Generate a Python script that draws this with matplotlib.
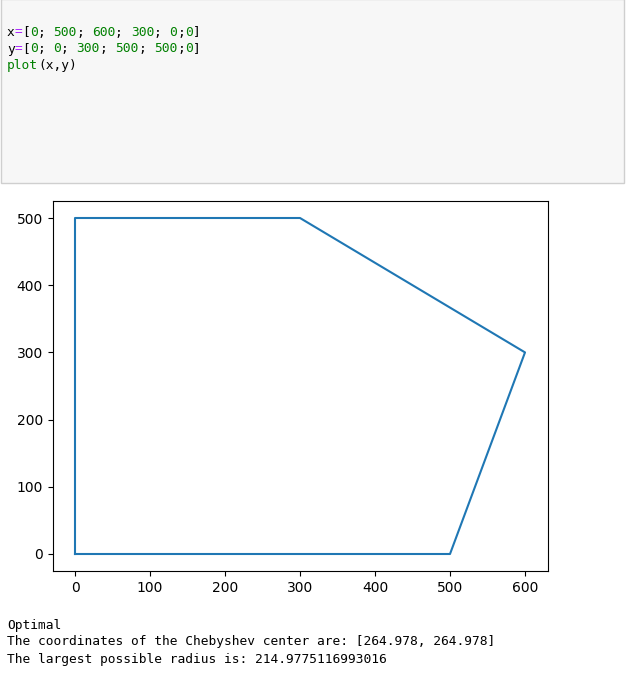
import matplotlib
matplotlib.use('Agg')
import matplotlib.pyplot as plt
from matplotlib.patches import Rectangle

# polygon vertices from the notebook cell
x = [0, 500, 600, 300, 0, 0]
y = [0, 0, 300, 500, 500, 0]

# printed output below the plot
out_lines = ["Optimal",
             "The coordinates of the Chebyshev center are: [264.978, 264.978]",
             "The largest possible radius is: 214.9775116993016"]

# code cell lines as (token, colour key) pairs
K, P, G = 'k', 'p', 'g'
code_lines = [
    [('x', K), ('=', P), ('[', K), ('0', G), ('; ', K), ('500', G), ('; ', K), ('600', G),
     ('; ', K), ('300', G), ('; ', K), ('0', G), (';', K), ('0', G), (']', K)],
    [('y', K), ('=', P), ('[', K), ('0', G), ('; ', K), ('0', G), ('; ', K), ('300', G),
     ('; ', K), ('500', G), ('; ', K), ('500', G), (';', K), ('0', G), (']', K)],
    [('plot', G), ('(x,y)', K)],
]
colours = {K: '#000000', P: '#aa22ff', G: '#008000'}

W, H = 632, 675
fig = plt.figure(figsize=(W / 100, H / 100), dpi=100)
fig.patch.set_facecolor('white')

# code cell box
fig.patches.append(Rectangle((0.5 / W, 1 - 182.5 / H), 623 / W, 184 / H,
                             transform=fig.transFigure, facecolor='#f7f7f7',
                             edgecolor='#cfcfcf', linewidth=1))

mono = 'DejaVu Sans Mono'
fs = 9.25
cw = fs / 72 * 100 * 0.6021  # advance of one monospace char in pixels

for i, line in enumerate(code_lines):
    yy = 1 - (32 + i * 17) / H
    col = 0
    for tok, c in line:
        if tok.strip():
            fig.text((7 + col * cw) / W, yy, tok, family=mono, fontsize=fs,
                     color=colours[c], va='center')
        col += len(tok)

for i, line in enumerate(out_lines):
    fig.text(7 / W, 1 - (625 + i * 17) / H, line, family=mono, fontsize=fs,
             color='#000000', va='center')

ax = fig.add_axes([52.5 / W, 1 - 570.8 / H, 495 / W, 369.6 / H])
ax.plot(x, y, color='#1f77b4', linewidth=1.5)
ax.set_xlim(-30, 630)
ax.set_ylim(-25, 525)
ax.set_xticks([0, 100, 200, 300, 400, 500, 600])
ax.set_yticks([0, 100, 200, 300, 400, 500])

fig.savefig('out.png', dpi=100)
